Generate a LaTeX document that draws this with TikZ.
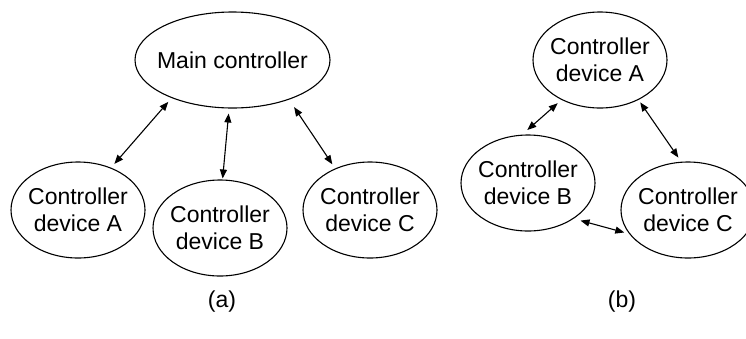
\documentclass[tikz,border=0pt]{standalone}
\usepackage{fontspec}
\setmainfont{Liberation Sans}
\usetikzlibrary{shapes.geometric,arrows.meta}

\tikzset{
    ctrl/.style={draw, ellipse, line width=1.1pt, inner xsep=-8pt, inner ysep=0pt,
        minimum width=134pt, minimum height=96pt, align=center,
        font=\fontsize{23}{26.5}\selectfont},
    link/.style={{Triangle[length=9pt,width=7pt]}-{Triangle[length=9pt,width=7pt]},
        line width=1.1pt, shorten <=5pt, shorten >=5pt},
    caption/.style={font=\fontsize{23}{26.5}\selectfont}
}

\begin{document}
\begin{tikzpicture}[x=1pt, y=-1pt]
    \useasboundingbox (0,0) rectangle (746,338);

    % (a) one main controller with three devices
    \node[ctrl, minimum width=195pt] (main) at (232.5,60) {Main controller};
    \node[ctrl] (devA) at (78,210) {Controller\\device A};
    \node[ctrl] (devB) at (220,228) {Controller\\device B};
    \node[ctrl] (devC) at (370,210) {Controller\\device C};
    \node[caption] (capA) at (222,302) {(a)};

    % (b) three devices talking to each other
    \node[ctrl] (ringA) at (600,60) {Controller\\device A};
    \node[ctrl] (ringB) at (528,183) {Controller\\device B};
    \node[ctrl] (ringC) at (688,210) {Controller\\device C};
    \node[caption] (capB) at (622,302) {(b)};

    % Draw the links
    \draw[link] (main.212) -- (devA.52);
    \draw[link, shorten >=1pt] (main.266) -- (devB.87);
    \draw[link, shorten <=9pt] (main.325) -- (devC.130);

    \draw[link, shorten >=7pt] (ringA.226) -- (ringB.97);
    \draw[link, shorten <=3pt] (ringA.314) -- (ringC.98);
    \draw[link, shorten <=7pt] (ringB.322) -- (ringC.202);
\end{tikzpicture}
\end{document}
